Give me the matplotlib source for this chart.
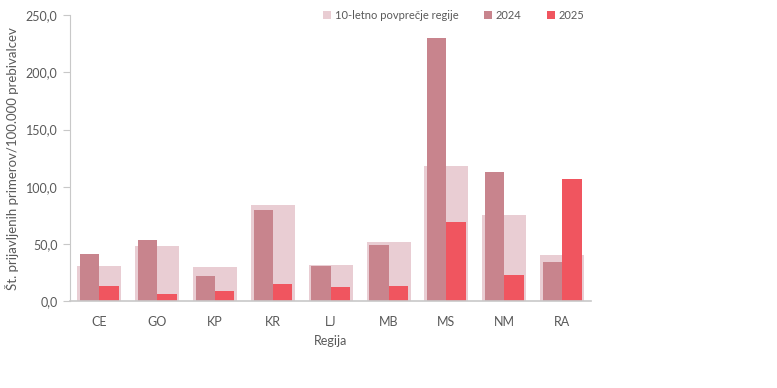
import numpy as np
import matplotlib.pyplot as plt
from matplotlib.ticker import FuncFormatter

regions = ["CE", "GO", "KP", "KR", "LJ", "MB", "MS", "NM", "RA"]
avg_10y = [30.6, 48.1, 29.7, 83.9, 31.5, 51.6, 118.0, 75.2, 40.2]
y2024 = [41.1, 53.3, 21.9, 79.5, 30.6, 49.0, 229.9, 112.8, 34.1]
y2025 = [13.1, 6.1, 8.7, 14.9, 12.2, 13.1, 69.1, 22.7, 106.6]

c_avg = "#E9CDD3"
c_2024 = "#C8848D"
c_2025 = "#F0555F"
txt = "#595959"

plt.rcParams["font.family"] = ["Lato", "DejaVu Sans"]

fig = plt.figure(figsize=(7.77, 3.88), dpi=100)
ax = fig.add_axes([0.090, 0.224, 0.671, 0.737])

x = np.arange(len(regions))
ax.bar(x, avg_10y, width=0.76, color=c_avg, label="10-letno povprečje regije")
ax.bar(x - 0.165, y2024, width=0.33, color=c_2024, label="2024")
ax.bar(x + 0.17, y2025, width=0.34, color=c_2025, label="2025")

ax.set_xlim(-0.5, len(regions) - 0.5)
ax.set_ylim(0, 250)
ax.set_yticks(np.arange(0, 251, 50))
ax.yaxis.set_major_formatter(FuncFormatter(lambda v, p: f"{v:.1f}".replace(".", ",")))
ax.set_xticks(x)
ax.set_xticklabels(regions)

for s in ["top", "right"]:
    ax.spines[s].set_visible(False)
ax.spines["left"].set_color("#C8C8C8")
ax.spines["bottom"].set_color("#C8C8C8")
ax.spines["bottom"].set_linewidth(1.2)
ax.tick_params(axis="y", colors="#C8C8C8", labelcolor=txt, labelsize=9, length=5, pad=4)
ax.tick_params(axis="x", length=0, labelcolor=txt, labelsize=9, pad=11)

ax.set_xlabel("Regija", color=txt, fontsize=9, labelpad=5)
ax.set_ylabel("Št. prijavljenih primerov/100.000 prebivalcev", color=txt, fontsize=9.5, labelpad=5)

fig.legend(loc="upper left", bbox_to_anchor=(0.403, 1.0), ncol=3, frameon=False,
           fontsize=8, handlelength=0.7, handleheight=0.7, handletextpad=0.35,
           columnspacing=2.3, labelcolor=txt)

fig.savefig("out.png", dpi=100)
